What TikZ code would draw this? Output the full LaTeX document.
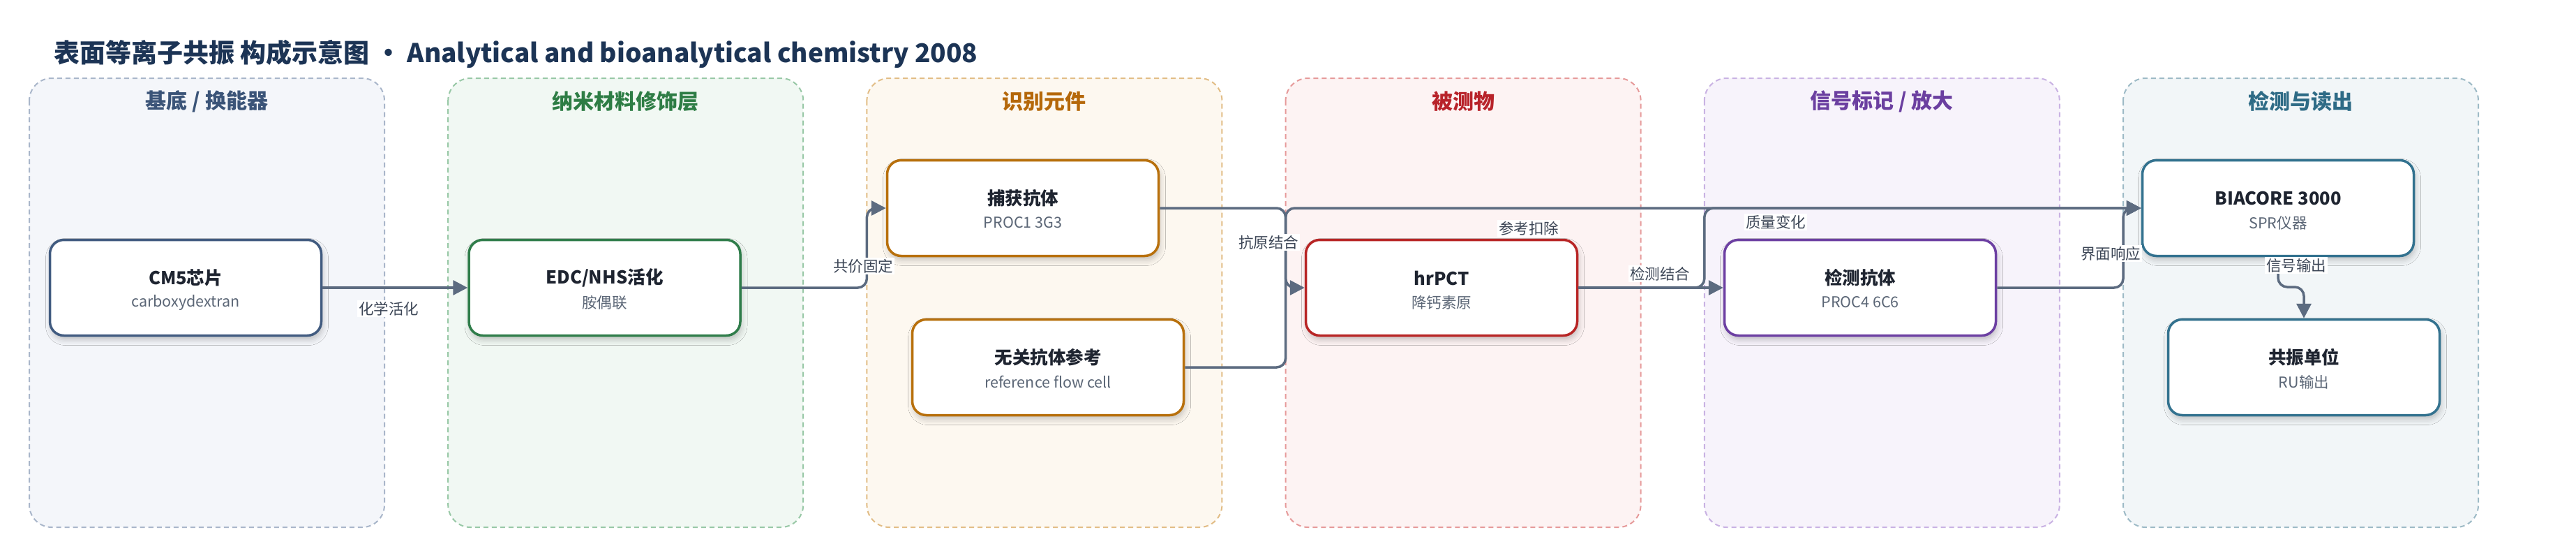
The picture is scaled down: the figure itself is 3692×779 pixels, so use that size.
\documentclass[tikz,border=0pt]{standalone}
\usepackage{fontspec}
\setmainfont{Noto Sans CJK SC}
\usetikzlibrary{arrows.meta,shadows.blur}
\definecolor{titlec}{HTML}{1C3455}
\definecolor{edgec}{HTML}{5C6B80}
\definecolor{lblc}{HTML}{3C4656}
\definecolor{nodet}{HTML}{1E2430}
\definecolor{nodes}{HTML}{5B6676}
\definecolor{pAf}{HTML}{F4F6FA}\definecolor{pAb}{HTML}{A9B6CA}\definecolor{pAt}{HTML}{3B5478}\definecolor{nA}{HTML}{415B80}
\definecolor{pBf}{HTML}{F1F8F3}\definecolor{pBb}{HTML}{98C8A6}\definecolor{pBt}{HTML}{2E7D45}\definecolor{nB}{HTML}{2F7D4A}
\definecolor{pCf}{HTML}{FDF8F0}\definecolor{pCb}{HTML}{E2BD86}\definecolor{pCt}{HTML}{B5680A}\definecolor{nC}{HTML}{B8700C}
\definecolor{pDf}{HTML}{FDF3F3}\definecolor{pDb}{HTML}{E69A9A}\definecolor{pDt}{HTML}{B8232A}\definecolor{nD}{HTML}{B82525}
\definecolor{pEf}{HTML}{F7F3FB}\definecolor{pEb}{HTML}{C9B2E3}\definecolor{pEt}{HTML}{6B3FA0}\definecolor{nE}{HTML}{6C3FA2}
\definecolor{pFf}{HTML}{F2F6F8}\definecolor{pFb}{HTML}{9DBAC6}\definecolor{pFt}{HTML}{2E6B86}\definecolor{nF}{HTML}{33728F}
\begin{document}
\begin{tikzpicture}[x=1pt,y=-1pt,
  panel/.style={line width=2pt, dash pattern=on 7pt off 5pt, rounded corners=32pt},
  ptitle/.style={font=\bfseries\fontsize{30pt}{34pt}\selectfont, inner sep=0pt},
  box/.style={draw, line width=3.5pt, fill=white, rounded corners=20pt,
    minimum width=389pt, minimum height=137pt, inner sep=0pt,
    blur shadow={shadow xshift=2pt, shadow yshift=-6pt, shadow blur radius=8pt, shadow opacity=22}},
  ntitle/.style={font=\bfseries\fontsize{25.5pt}{30pt}\selectfont, text=nodet, inner sep=0pt},
  nsub/.style={font=\fontsize{21.5pt}{26pt}\selectfont, text=nodes, inner sep=0pt},
  edge/.style={draw=edgec, line width=3.5pt, rounded corners=13pt, -{Triangle[length=21pt,width=21pt]}},
  lbl/.style={font=\fontsize{21.5pt}{26pt}\selectfont, text=lblc, fill=white, inner sep=2pt}
]
\useasboundingbox (0,0) rectangle (3692,779);
\fill[white] (0,0) rectangle (3692,779);

% title
\node[anchor=west, inner sep=0pt, text=titlec, font=\bfseries\fontsize{37pt}{43pt}\selectfont] (title) at (77,77)
  {表面等离子共振 构成示意图 · Analytical and bioanalytical chemistry 2008};

% panels
\draw[panel, draw=pAb, fill=pAf] (42,112) rectangle ++(509,643);
\draw[panel, draw=pBb, fill=pBf] (642.2,112) rectangle ++(509,643);
\draw[panel, draw=pCb, fill=pCf] (1242.4,112) rectangle ++(509,643);
\draw[panel, draw=pDb, fill=pDf] (1842.6,112) rectangle ++(509,643);
\draw[panel, draw=pEb, fill=pEf] (2442.8,112) rectangle ++(509,643);
\draw[panel, draw=pFb, fill=pFf] (3043,112) rectangle ++(509,643);

\node[ptitle, text=pAt] (pt1) at (296.5,145) {基底 / 换能器};
\node[ptitle, text=pBt] (pt2) at (896.7,145) {纳米材料修饰层};
\node[ptitle, text=pCt] (pt3) at (1496.9,145) {识别元件};
\node[ptitle, text=pDt] (pt4) at (2097.1,145) {被测物};
\node[ptitle, text=pEt] (pt5) at (2697.3,145) {信号标记 / 放大};
\node[ptitle, text=pFt] (pt6) at (3297.5,145) {检测与读出};

% lanes
\coordinate (lane2) at (1242.4,0);
\coordinate (lane3) at (1842.6,0);
\coordinate (lane4) at (2442.8,0);
\coordinate (lane5) at (3043,0);
\coordinate (jog) at (0,411);

% nodes
\node[box, draw=nA] (cm5) at (266,412) {};
\node[box, draw=nB] (edc) at (866.5,412) {};
\node[box, draw=nC] (cap) at (1466,298) {};
\node[box, draw=nC] (ref) at (1502,526) {};
\node[box, draw=nD] (pct) at (2066,412) {};
\node[box, draw=nE] (det) at (2666,412) {};
\node[box, draw=nF] (bia) at (3265,298) {};
\node[box, draw=nF] (ru) at (3302,526) {};

\node[ntitle] (cm5t) at ([yshift=14pt]cm5.center) {CM5芯片};
\node[nsub]   (cm5s) at ([yshift=-21pt]cm5.center) {carboxydextran};
\node[ntitle] (edct) at ([yshift=14pt]edc.center) {EDC/NHS活化};
\node[nsub]   (edcs) at ([yshift=-21pt]edc.center) {胺偶联};
\node[ntitle] (capt) at ([yshift=14pt]cap.center) {捕获抗体};
\node[nsub]   (caps) at ([yshift=-21pt]cap.center) {PROC1 3G3};
\node[ntitle] (reft) at ([yshift=14pt]ref.center) {无关抗体参考};
\node[nsub]   (refs) at ([yshift=-21pt]ref.center) {reference flow cell};
\node[ntitle] (pctt) at ([yshift=14pt]pct.center) {hrPCT};
\node[nsub]   (pcts) at ([yshift=-21pt]pct.center) {降钙素原};
\node[ntitle] (dett) at ([yshift=14pt]det.center) {检测抗体};
\node[nsub]   (dets) at ([yshift=-21pt]det.center) {PROC4 6C6};
\node[ntitle] (biat) at ([yshift=14pt]bia.center) {BIACORE 3000};
\node[nsub]   (bias) at ([yshift=-21pt]bia.center) {SPR仪器};
\node[ntitle] (rut)  at ([yshift=14pt]ru.center) {共振单位};
\node[nsub]   (rus)  at ([yshift=-21pt]ru.center) {RU输出};

% edges
\draw[edge] (cm5.east) -- (edc.west);
\draw[edge] (edc.east) -- (edc.east -| lane2) -- (cap.west -| lane2) -- (cap.west);
\draw[edge] (cap.east) -- (cap.east -| lane3) -- (pct.west -| lane3) -- (pct.west);
\draw[edge] (ref.east) -- (ref.east -| lane3) -- (bia.west -| lane3) -- (bia.west);
\draw[edge] (pct.east) -- (det.west);
\draw[edge] (pct.east) -- (pct.east -| lane4) -- (bia.west -| lane4) -- (bia.west);
\draw[edge] (det.east) -- (det.east -| lane5) -- (bia.west -| lane5) -- (bia.west);
\draw[edge] (bia.south) -- (bia.south |- jog) -- (ru.north |- jog) -- (ru.north);

% labels
\node[lbl] (l1) at (557,442) {化学活化};
\node[lbl] (l2) at (1237,381) {共价固定};
\node[lbl] (l3) at (1818,347) {抗原结合};
\node[lbl] (l4) at (2191,327) {参考扣除};
\node[lbl] (l5) at (2379,392) {检测结合};
\node[lbl] (l6) at (2545,318) {质量变化};
\node[lbl] (l7) at (3025,363) {界面响应};
\node[lbl] (l8) at (3291,380) {信号输出};
\end{tikzpicture}
\end{document}
